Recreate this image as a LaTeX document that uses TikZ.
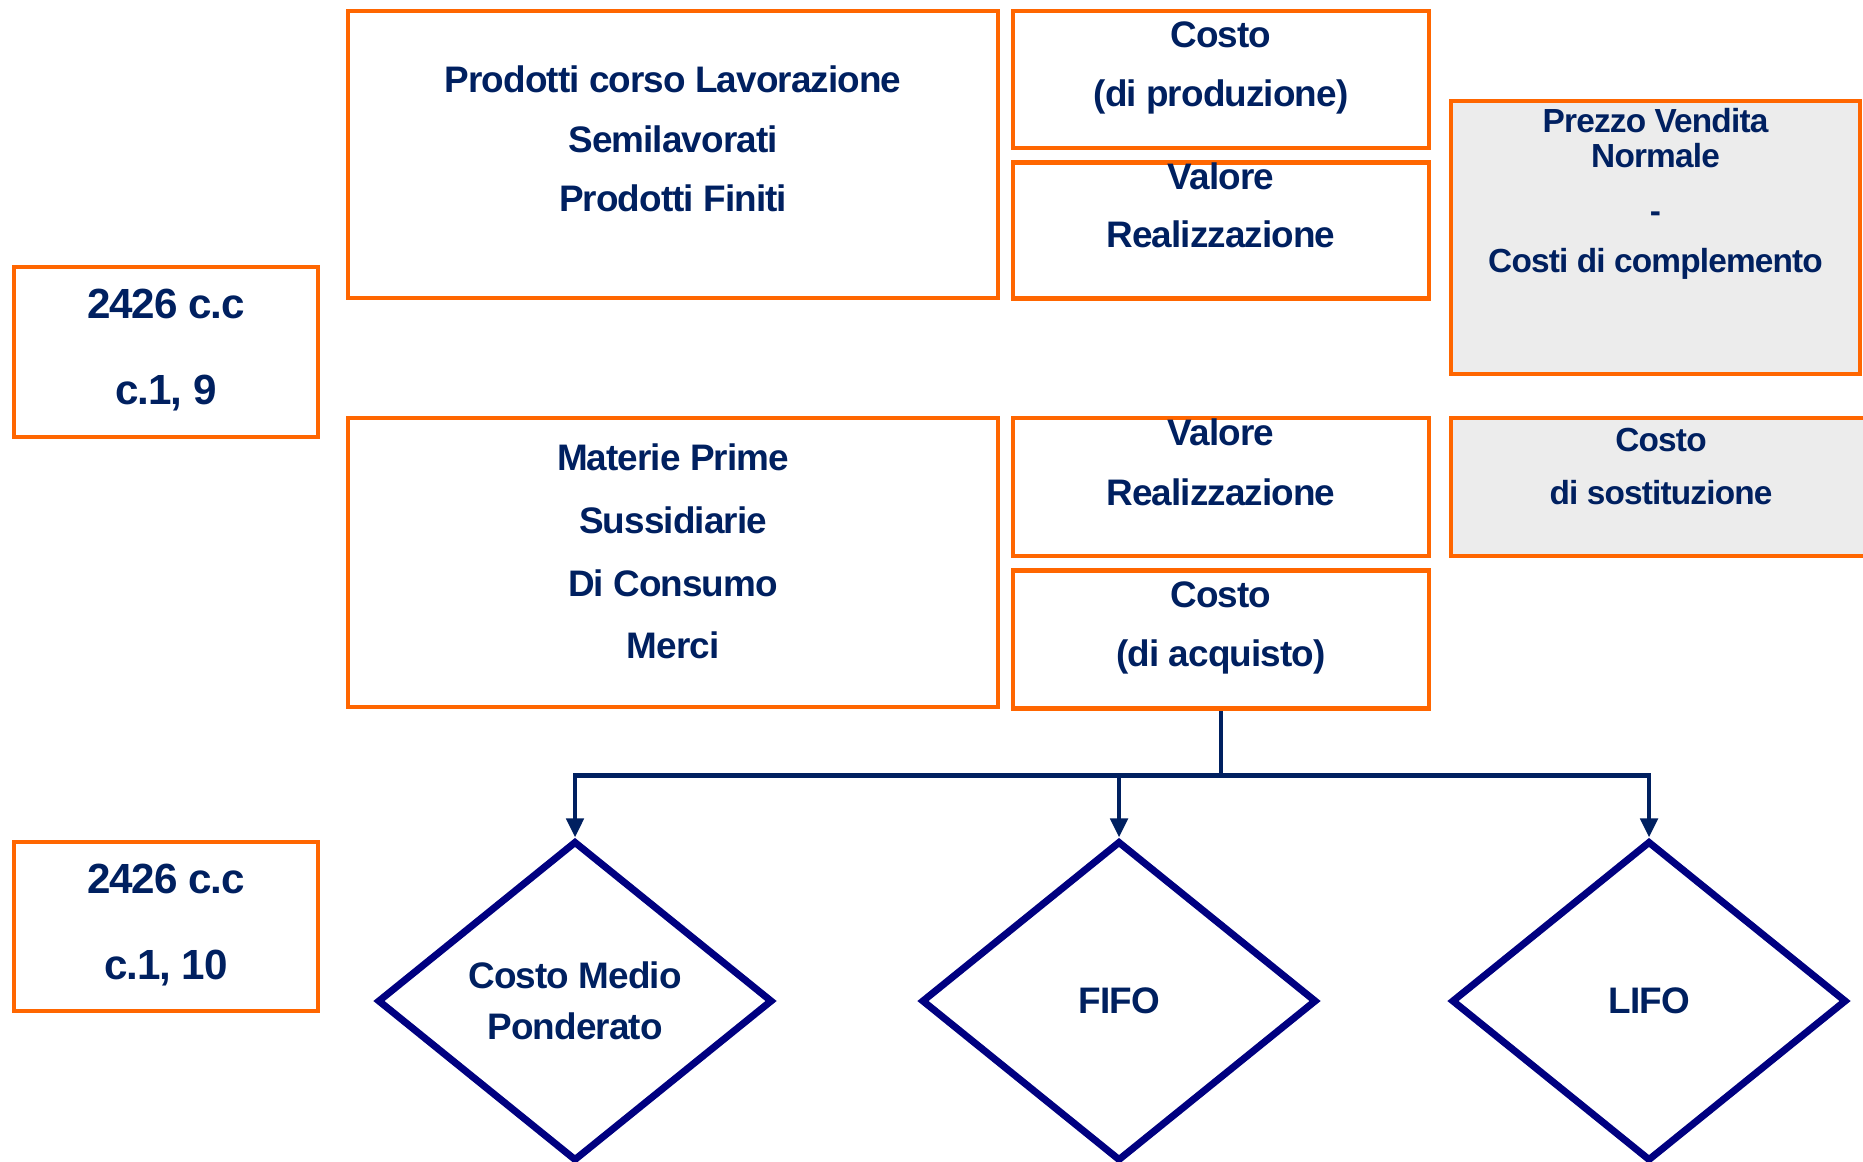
\documentclass[tikz,border=0pt]{standalone}
\usepackage{fontspec}
\setmainfont{Liberation Sans}[LetterSpace=-2.5]
\usetikzlibrary{positioning,shapes.geometric,arrows.meta}

\definecolor{boxorange}{RGB}{255,102,0}
\definecolor{textnavy}{RGB}{0,32,96}
\definecolor{linenavy}{RGB}{0,0,128}
\definecolor{fillgrey}{RGB}{236,236,236}

\tikzset{
  orangebox/.style={draw=boxorange, line width=1.4pt, inner sep=0pt},
  greybox/.style={orangebox, fill=fillgrey},
  txt/.style={text=textnavy, align=center, inner sep=0pt,
    font={\fontsize{10.5}{16.8}\selectfont\bfseries}},
  smalltxt/.style={txt, font={\fontsize{9.5}{10}\selectfont\bfseries}},
  reftxt/.style={txt, font={\fontsize{12}{24.4}\selectfont\bfseries}},
  choice/.style={diamond, draw=linenavy, line width=2pt, inner sep=0pt,
    minimum width=3.95cm, minimum height=3.2cm, text=textnavy, align=center,
    font={\fontsize{10.5}{14.5}\selectfont\bfseries}},
  link/.style={draw=textnavy, line width=1.3pt},
}

\begin{document}
\begin{tikzpicture}
    \useasboundingbox (0,0) rectangle (18.63,-11.61);
    \clip (0,0) rectangle (18.63,-11.61);

    % upper row
    \node[orangebox, minimum width=6.5cm, minimum height=2.87cm] (prod) at (6.73,-1.545) {};
    \node[orangebox, minimum width=4.16cm, minimum height=1.37cm] (cprod) at (12.21,-0.795) {};
    \node[orangebox, minimum width=4.16cm, minimum height=1.36cm, below=0.1cm of cprod] (vreal) {};
    \node[greybox, minimum width=4.09cm, minimum height=2.73cm] (prezzo) at (16.555,-2.375) {};
    \node[orangebox, minimum width=3.04cm, minimum height=1.70cm] (art9) at (1.66,-3.52) {};

    % lower row
    \node[orangebox, minimum width=6.5cm, minimum height=2.89cm] (mat) at (6.73,-5.625) {};
    \node[orangebox, minimum width=4.16cm, minimum height=1.38cm] (vrealb) at (12.21,-4.87) {};
    \node[orangebox, minimum width=4.16cm, minimum height=1.38cm, below=0.1cm of vrealb] (cacq) {};
    \node[greybox, minimum width=4.2cm, minimum height=1.38cm] (csost) at (16.61,-4.87) {};
    \node[orangebox, minimum width=3.04cm, minimum height=1.69cm] (art10) at (1.66,-9.265) {};

    % texts
    \node[txt, below=0.57cm of prod.north] (prodtxt)
        {Prodotti corso Lavorazione\\Semilavorati\\Prodotti Finiti};
    \node[txt, font={\fontsize{10.5}{17}\selectfont\bfseries}, below=0.12cm of cprod.north] (cprodtxt)
        {Costo\\(di produzione)};
    \node[txt, font={\fontsize{10.5}{16.4}\selectfont\bfseries}, below=0.02cm of vreal.north] (vrealtxt)
        {Valore\\Realizzazione};
    \node[smalltxt, below=0.09cm of prezzo.north] (prezzotxt)
        {Prezzo Vendita\\Normale\\[5.6pt]-\\[4.2pt]Costi di complemento};
    \node[reftxt, below=0.24cm of art9.north] (art9txt) {2426 c.c\\c.1, 9};
    \node[txt, font={\fontsize{10.5}{17.8}\selectfont\bfseries}, below=0.28cm of mat.north] (mattxt)
        {Materie Prime\\Sussidiarie\\Di Consumo\\Merci};
    \node[txt, below=0.03cm of vrealb.north] (vrealbtxt) {Valore\\Realizzazione};
    \node[smalltxt, font={\fontsize{9.5}{15}\selectfont\bfseries}, below=0.12cm of csost.north] (csosttxt)
        {Costo\\di sostituzione};
    \node[txt, below=0.13cm of cacq.north] (cacqtxt) {Costo\\(di acquisto)};
    \node[reftxt, below=0.24cm of art10.north] (art10txt) {2426 c.c\\c.1, 10};

    % methods
    \node[choice] (cmp) at (5.75,-10.01) {Costo Medio\\Ponderato};
    \node[choice] (fifo) at (11.19,-10.01) {FIFO};
    \node[choice] (lifo) at (16.49,-10.01) {LIFO};

    \coordinate[below=0.64cm of cacq.south] (fork);
    \draw[link] (cacq.south) -- (fork);
    \foreach \m in {cmp,fifo,lifo}
        \draw[link, -{Triangle[width=1.7mm,length=1.9mm]}] (fork) -| (\m.north);
\end{tikzpicture}
\end{document}
